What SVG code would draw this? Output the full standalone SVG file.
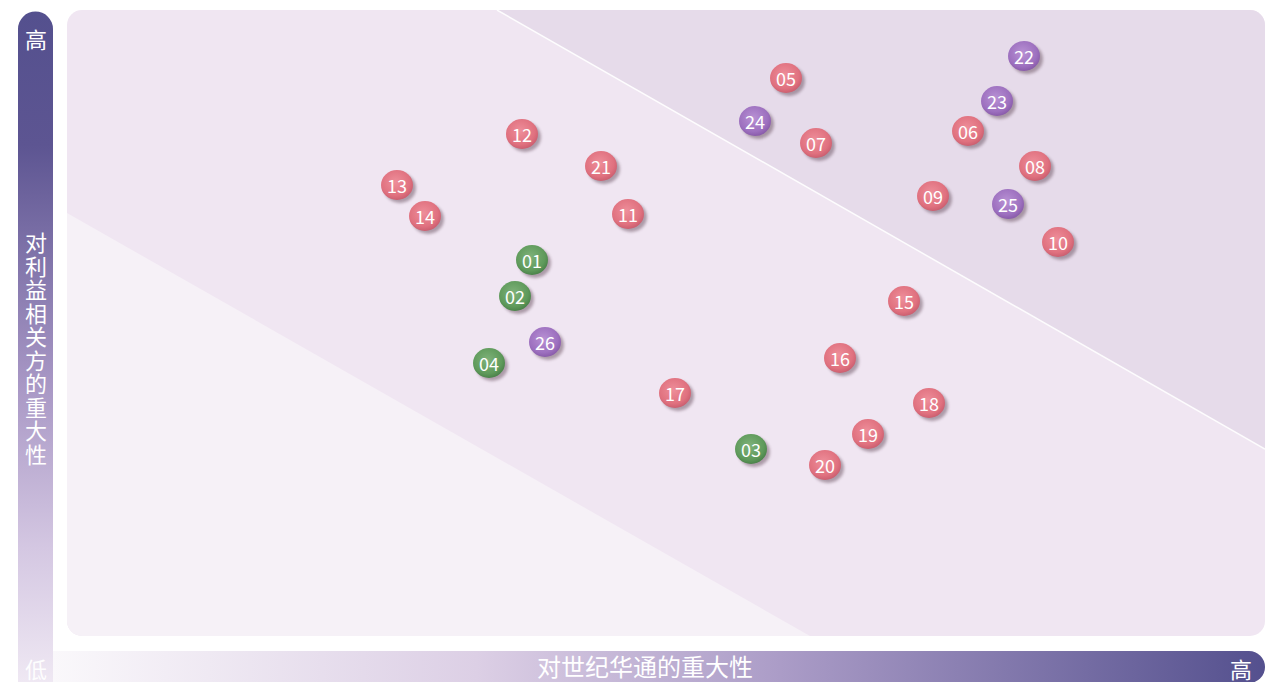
<svg xmlns="http://www.w3.org/2000/svg" width="1270" height="682" viewBox="0 0 1270 682">
<style>
.ax{font-family:"Noto Sans CJK SC","Noto Sans",sans-serif;font-size:22px;fill:#ffffff;}
.num{font-family:"Noto Sans CJK SC","Noto Sans",sans-serif;font-size:18px;fill:#ffffff;text-anchor:middle;dominant-baseline:central;}
.pk{fill:url(#gPink);}
.pu{fill:url(#gPurple);}
.gr{fill:url(#gGreen);}
.sh{fill:#5a4050;opacity:0.45;filter:url(#blur);}
</style>
<defs>
<linearGradient id="gV" x1="0" y1="0" x2="0" y2="1">
<stop offset="0" stop-color="#54508e"/>
<stop offset="0.2" stop-color="#5d5592"/>
<stop offset="0.55" stop-color="#a796c4"/>
<stop offset="0.8" stop-color="#d4c7e2"/>
<stop offset="1" stop-color="#efe8f3"/>
</linearGradient>
<linearGradient id="gH" x1="0" y1="0" x2="1" y2="0">
<stop offset="0" stop-color="#faf8fb"/>
<stop offset="0.35" stop-color="#dccfe5"/>
<stop offset="0.6" stop-color="#ab9cc7"/>
<stop offset="1" stop-color="#54508e"/>
</linearGradient>
<radialGradient id="gPink" cx="0.45" cy="0.4" r="0.6">
<stop offset="0" stop-color="#ee8e9a"/>
<stop offset="0.75" stop-color="#e0717f"/>
<stop offset="1" stop-color="#cc5f70"/>
</radialGradient>
<radialGradient id="gPurple" cx="0.45" cy="0.4" r="0.6">
<stop offset="0" stop-color="#b891d4"/>
<stop offset="0.75" stop-color="#9d70bf"/>
<stop offset="1" stop-color="#8a5cab"/>
</radialGradient>
<radialGradient id="gGreen" cx="0.45" cy="0.4" r="0.6">
<stop offset="0" stop-color="#7fb27a"/>
<stop offset="0.75" stop-color="#5f9a5b"/>
<stop offset="1" stop-color="#4b834a"/>
</radialGradient>
<filter id="blur" x="-50%" y="-50%" width="200%" height="200%"><feGaussianBlur stdDeviation="1.5"/></filter>
<clipPath id="plotClip"><rect x="67" y="10" width="1198" height="626" rx="15"/></clipPath>
</defs>

<g id="axis-y">
<path d="M18,682 V29 A17.5,17.5 0 0 1 53,29 V682 Z" fill="url(#gV)"/>
<text class="ax" x="36" y="48" text-anchor="middle">高</text>
<text class="ax" x="36" y="232" writing-mode="vertical-rl" letter-spacing="1.5">对利益相关方的重大性</text>
<text class="ax" x="36" y="678" text-anchor="middle" fill-opacity="0.95">低</text>
</g>

<g id="axis-x">
<path d="M53,651 H1249 A16,16 0 0 1 1249,683 H53 Z" fill="url(#gH)"/>
<text class="ax" x="645" y="676" text-anchor="middle" style="font-size:24px">对世纪华通的重大性</text>
<text class="ax" x="1241" y="678" text-anchor="middle">高</text>
</g>

<g id="plot" clip-path="url(#plotClip)">
<rect x="67" y="10" width="1198" height="626" fill="#f0e6f2"/>
<polygon points="67,213 810,636 67,636" fill="#f6f1f7"/>
<polygon points="497,10 1265,10 1265,449" fill="#e6dbea"/>
<line x1="497" y1="10" x2="1265" y2="449" stroke="#ffffff" stroke-width="1.5" opacity="0.9"/>
</g>

<g id="connectors"></g>

<g id="n05"><ellipse class="sh" cx="789" cy="81" rx="16" ry="15"/><ellipse class="pk" cx="786" cy="78" rx="16" ry="15"/><text class="num" x="786" y="78">05</text></g>
<g id="n22"><ellipse class="sh" cx="1027" cy="59" rx="16" ry="15"/><ellipse class="pu" cx="1024" cy="56" rx="16" ry="15"/><text class="num" x="1024" y="56">22</text></g>
<g id="n23"><ellipse class="sh" cx="1000" cy="104" rx="16" ry="15"/><ellipse class="pu" cx="997" cy="101" rx="16" ry="15"/><text class="num" x="997" y="101">23</text></g>
<g id="n24"><ellipse class="sh" cx="758" cy="124" rx="16" ry="15"/><ellipse class="pu" cx="755" cy="121" rx="16" ry="15"/><text class="num" x="755" y="121">24</text></g>
<g id="n07"><ellipse class="sh" cx="819" cy="146" rx="16" ry="15"/><ellipse class="pk" cx="816" cy="143" rx="16" ry="15"/><text class="num" x="816" y="143">07</text></g>
<g id="n06"><ellipse class="sh" cx="971" cy="134" rx="16" ry="15"/><ellipse class="pk" cx="968" cy="131" rx="16" ry="15"/><text class="num" x="968" y="131">06</text></g>
<g id="n12"><ellipse class="sh" cx="525" cy="137" rx="16" ry="15"/><ellipse class="pk" cx="522" cy="134" rx="16" ry="15"/><text class="num" x="522" y="134">12</text></g>
<g id="n21"><ellipse class="sh" cx="604" cy="169" rx="16" ry="15"/><ellipse class="pk" cx="601" cy="166" rx="16" ry="15"/><text class="num" x="601" y="166">21</text></g>
<g id="n08"><ellipse class="sh" cx="1038" cy="169" rx="16" ry="15"/><ellipse class="pk" cx="1035" cy="166" rx="16" ry="15"/><text class="num" x="1035" y="166">08</text></g>
<g id="n13"><ellipse class="sh" cx="400" cy="188" rx="16" ry="15"/><ellipse class="pk" cx="397" cy="185" rx="16" ry="15"/><text class="num" x="397" y="185">13</text></g>
<g id="n09"><ellipse class="sh" cx="936" cy="199" rx="16" ry="15"/><ellipse class="pk" cx="933" cy="196" rx="16" ry="15"/><text class="num" x="933" y="196">09</text></g>
<g id="n25"><ellipse class="sh" cx="1011" cy="207" rx="16" ry="15"/><ellipse class="pu" cx="1008" cy="204" rx="16" ry="15"/><text class="num" x="1008" y="204">25</text></g>
<g id="n14"><ellipse class="sh" cx="428" cy="219" rx="16" ry="15"/><ellipse class="pk" cx="425" cy="216" rx="16" ry="15"/><text class="num" x="425" y="216">14</text></g>
<g id="n11"><ellipse class="sh" cx="631" cy="217" rx="16" ry="15"/><ellipse class="pk" cx="628" cy="214" rx="16" ry="15"/><text class="num" x="628" y="214">11</text></g>
<g id="n10"><ellipse class="sh" cx="1061" cy="245" rx="16" ry="15"/><ellipse class="pk" cx="1058" cy="242" rx="16" ry="15"/><text class="num" x="1058" y="242">10</text></g>
<g id="n01"><ellipse class="sh" cx="535" cy="263" rx="16" ry="15"/><ellipse class="gr" cx="532" cy="260" rx="16" ry="15"/><text class="num" x="532" y="260">01</text></g>
<g id="n02"><ellipse class="sh" cx="518" cy="299" rx="16" ry="15"/><ellipse class="gr" cx="515" cy="296" rx="16" ry="15"/><text class="num" x="515" y="296">02</text></g>
<g id="n15"><ellipse class="sh" cx="907" cy="304" rx="16" ry="15"/><ellipse class="pk" cx="904" cy="301" rx="16" ry="15"/><text class="num" x="904" y="301">15</text></g>
<g id="n26"><ellipse class="sh" cx="548" cy="345" rx="16" ry="15"/><ellipse class="pu" cx="545" cy="342" rx="16" ry="15"/><text class="num" x="545" y="342">26</text></g>
<g id="n04"><ellipse class="sh" cx="492" cy="366" rx="16" ry="15"/><ellipse class="gr" cx="489" cy="363" rx="16" ry="15"/><text class="num" x="489" y="363">04</text></g>
<g id="n16"><ellipse class="sh" cx="843" cy="361" rx="16" ry="15"/><ellipse class="pk" cx="840" cy="358" rx="16" ry="15"/><text class="num" x="840" y="358">16</text></g>
<g id="n17"><ellipse class="sh" cx="678" cy="396" rx="16" ry="15"/><ellipse class="pk" cx="675" cy="393" rx="16" ry="15"/><text class="num" x="675" y="393">17</text></g>
<g id="n18"><ellipse class="sh" cx="932" cy="406" rx="16" ry="15"/><ellipse class="pk" cx="929" cy="403" rx="16" ry="15"/><text class="num" x="929" y="403">18</text></g>
<g id="n19"><ellipse class="sh" cx="871" cy="437" rx="16" ry="15"/><ellipse class="pk" cx="868" cy="434" rx="16" ry="15"/><text class="num" x="868" y="434">19</text></g>
<g id="n03"><ellipse class="sh" cx="754" cy="452" rx="16" ry="15"/><ellipse class="gr" cx="751" cy="449" rx="16" ry="15"/><text class="num" x="751" y="449">03</text></g>
<g id="n20"><ellipse class="sh" cx="828" cy="468" rx="16" ry="15"/><ellipse class="pk" cx="825" cy="465" rx="16" ry="15"/><text class="num" x="825" y="465">20</text></g>
</svg>
